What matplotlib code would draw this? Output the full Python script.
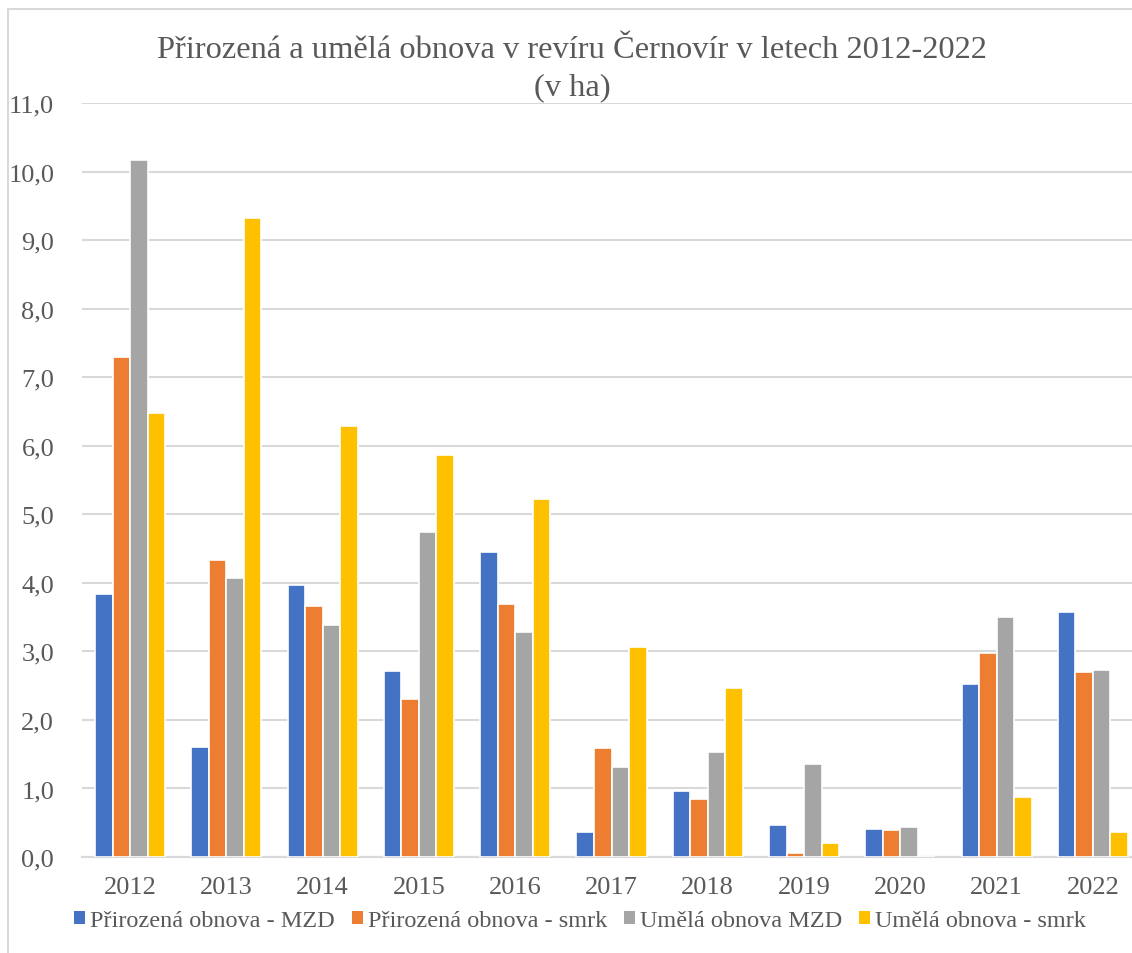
import matplotlib
matplotlib.use("Agg")
import matplotlib.pyplot as plt
import numpy as np
from matplotlib.patches import Rectangle

years = ["2012", "2013", "2014", "2015", "2016", "2017", "2018", "2019", "2020", "2021", "2022"]
series_names = ["Přirozená obnova - MZD", "Přirozená obnova - smrk", "Umělá obnova MZD", "Umělá obnova - smrk"]
prir_mzd = [3.84, 1.60, 3.97, 2.71, 4.45, 0.37, 0.97, 0.47, 0.41, 2.53, 3.58]
prir_smrk = [7.29, 4.33, 3.66, 2.30, 3.69, 1.59, 0.84, 0.06, 0.39, 2.98, 2.70]
umela_mzd = [10.17, 4.07, 3.38, 4.74, 3.28, 1.31, 1.53, 1.35, 0.44, 3.50, 2.73]
umela_smrk = [6.48, 9.32, 6.29, 5.86, 5.23, 3.06, 2.47, 0.21, 0.00, 0.87, 0.37]
colors = ["#4472C4", "#ED7D31", "#A5A5A5", "#FFC000"]

plt.rcParams['font.family'] = ['Liberation Serif', 'DejaVu Serif']
txt = "#595959"

fig = plt.figure(figsize=(11.32, 9.54), dpi=100)
fig.patch.set_facecolor("white")
fig.patches.append(Rectangle((8/1132, -0.1), 1.2, 1 - 10/954 + 0.1, transform=fig.transFigure,
                             facecolor="none", edgecolor="#D9D9D9", linewidth=1.5, zorder=0))

ax = fig.add_axes([82/1132, 1 - 858/954, 1059/1132, 754/954])
x = np.arange(len(years))
slot = 0.182
data = [prir_mzd, prir_smrk, umela_mzd, umela_smrk]
for i, (vals, c, name) in enumerate(zip(data, colors, series_names)):
    ax.bar(x + (i - 1.5) * slot, vals, width=slot, color=c, edgecolor="white",
           linewidth=1.2, label=name, zorder=3)

ax.set_xlim(-0.5, len(years) - 0.5)
ax.set_ylim(0, 11)
ax.set_yticks(np.arange(0, 12, 1))
ax.set_yticklabels([f"{v:.1f}".replace(".", ",") for v in np.arange(0, 12, 1)])
ax.set_xticks(x)
ax.set_xticklabels(years)
ax.grid(axis="y", color="#D9D9D9", linewidth=1.5, zorder=0)
for s in ["top", "right", "left"]:
    ax.spines[s].set_visible(False)
ax.spines["bottom"].set_color("#D9D9D9")
ax.spines["bottom"].set_linewidth(1.5)
ax.tick_params(axis="both", length=0, labelsize=19, colors=txt)
ax.tick_params(axis="y", pad=20)
ax.tick_params(axis="x", pad=14)

fig.text(572/1132, 1 - 50/954, "Přirozená a umělá obnova v revíru Černovír v letech 2012-2022",
         ha="center", va="center", fontsize=23.4, color=txt)
fig.text(572/1132, 1 - 88/954, "(v ha)", ha="center", va="center", fontsize=23.4, color=txt)

handle_patches = [Rectangle((0, 0), 1, 1, facecolor=c, edgecolor="none") for c in colors]
fig.legend(handles=handle_patches, labels=series_names, loc="center",
           bbox_to_anchor=(580/1132, 1 - 922/954),
           ncol=4, frameon=False, prop={'family': 'Liberation Serif', 'size': 17.5},
           handlelength=0.45, handleheight=0.45,
           handletextpad=0.2, columnspacing=0.7, labelcolor=txt)

fig.savefig("out.png", dpi=100, facecolor="white")
